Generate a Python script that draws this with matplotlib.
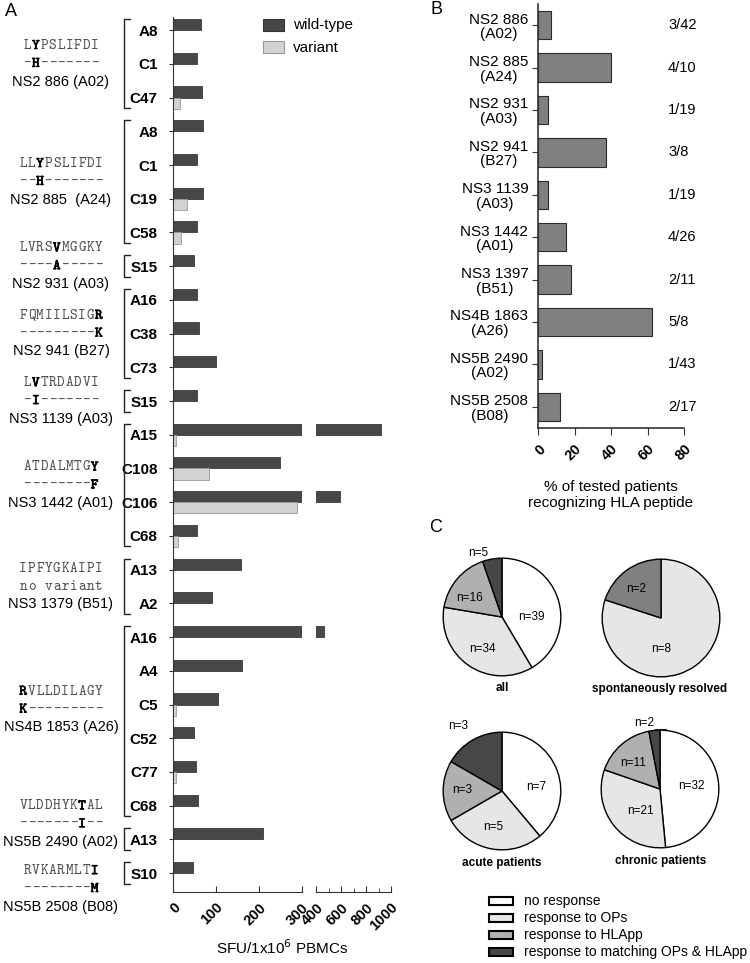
import numpy as np
import matplotlib
matplotlib.use("Agg")
import matplotlib.pyplot as plt
import matplotlib.transforms as mtransforms
import matplotlib.patheffects as pe
from matplotlib.patches import Rectangle
from matplotlib.lines import Line2D

plt.rcParams['font.family'] = ['Liberation Sans', 'DejaVu Sans']

# ---------------- data ----------------
# panel A: donors per row, wild-type and variant SFU
donors = ['A8', 'C1', 'C47', 'A8', 'C1', 'C19', 'C58', 'S15', 'A16', 'C38', 'C73',
          'S15', 'A15', 'C108', 'C106', 'C68', 'A13', 'A2', 'A16', 'A4', 'C5', 'C52',
          'C77', 'C68', 'A13', 'S10']
wild_type = [65, 56, 67, 71, 56, 71, 56, 48, 56, 61, 100, 56, 917, 250, 590, 56,
             158, 91, 460, 160, 106, 48, 54, 58, 210, 46]
variant = [0, 0, 16, 0, 0, 33, 18, 0, 0, 0, 0, 0, 8, 85, 288, 11, 0, 0, 0, 0, 6,
           0, 8, 0, 0, 0]

group_names = ['NS2 886 (A02)', 'NS2 885  (A24)', 'NS2 931 (A03)', 'NS2 941 (B27)',
               'NS3 1139 (A03)', 'NS3 1442 (A01)', 'NS3 1379 (B51)', 'NS4B 1853 (A26)',
               'NS5B 2490 (A02)', 'NS5B 2508 (B08)']
group_seqs = ['LYPSLIFDI', 'LLYPSLIFDI', 'LVRSVMGGKY', 'FQMIILSIGR', 'LVTRDADVI',
              'ATDALMTGY', 'IPFYGKAIPI', 'RVLLDILAGY', 'VLDDHYKTAL', 'RVKARMLTI']
group_vars = ['-H-------', '--H-------', '----A-----', '---------K', '-I-------',
              '--------F', 'no variant', 'K---------', '-------I--', '--------M']
group_bold = [1, 2, 4, 9, 1, 8, None, 0, 7, 8]
group_sizes = [3, 4, 1, 3, 1, 4, 2, 6, 1, 1]
group_shift = [0, 0, 0, 0, 0, 0, 0, -0.35, -0.45, 0.47]

# panel B
peptides = ['NS2 886\n(A02)', 'NS2 885\n(A24)', 'NS2 931\n(A03)', 'NS2 941\n(B27)',
            'NS3 1139\n(A03)', 'NS3 1442\n(A01)', 'NS3 1397\n(B51)', 'NS4B 1863\n(A26)',
            'NS5B 2490\n(A02)', 'NS5B 2508\n(B08)']
pct_recog = [7.1, 40.0, 5.3, 37.5, 5.3, 15.4, 18.2, 62.5, 2.3, 11.8]
fractions = ['3/42', '4/10', '1/19', '3/8', '1/19', '4/26', '2/11', '5/8', '1/43', '2/17']

# panel C
categories = ['no response', 'response to OPs', 'response to HLApp',
              'response to matching OPs & HLApp']
pie_titles = ['all', 'spontaneously resolved', 'acute patients', 'chronic patients']
pie_all = [39, 34, 16, 5]
pie_resolved = [0, 8, 2, 0]
pie_acute = [7, 5, 3, 3]
pie_chronic = [32, 21, 11, 2]

# ---------------- layout helpers ----------------
W, H = 750, 963
fig = plt.figure(figsize=(W / 100, H / 100), dpi=100)


def box(x0, y0, x1, y1):
    return [x0 / W, 1 - y1 / H, (x1 - x0) / W, (y1 - y0) / H]


DARK = '#474747'
LIGHT = '#d2d2d2'
SPINE = '#333333'
MONO = ['cmtt10', 'DejaVu Sans Mono']

# ---------------- panel A ----------------
axA = fig.add_axes(box(173, 17, 301.7, 892))
axA2 = fig.add_axes(box(316.3, 17, 391, 892), sharey=axA)
rows = np.arange(len(donors))
wt = np.array(wild_type, dtype=float)
va = np.array(variant, dtype=float)
has_var = va > 0
for ax in (axA, axA2):
    ax.barh(rows - 0.165, wt, height=0.33, color=DARK, edgecolor='#3a3a3a', linewidth=0.6)
    ax.barh(rows[has_var] + 0.165, va[has_var], height=0.33, color=LIGHT,
            edgecolor='#9a9a9a', linewidth=0.6)
    for s in ('top', 'right'):
        ax.spines[s].set_visible(False)
    ax.spines['bottom'].set_color(SPINE)
    ax.spines['left'].set_color(SPINE)
    ax.tick_params(axis='x', direction='in', length=4, color=SPINE, pad=6)

axA.set_ylim(25.56, -0.39)
axA.set_xlim(0, 300)
axA.set_xticks([0, 100, 200, 300])
axA.set_yticks(rows)
axA.set_yticklabels(donors, fontsize=11, fontweight='bold')
axA.tick_params(axis='y', direction='out', length=3, color=SPINE, pad=8)

axA2.set_xlim(400, 1000)
axA2.set_xticks([400, 600, 800, 1000])
axA2.set_xticks([500, 700, 900], minor=True)
axA2.tick_params(axis='x', which='minor', direction='in', length=3, color=SPINE)
axA2.spines['left'].set_visible(False)
axA2.tick_params(axis='y', left=False, labelleft=False)

for ax in (axA, axA2):
    for lab in ax.get_xticklabels():
        lab.set(rotation=45, ha='right', va='top', rotation_mode='anchor',
                fontsize=10.5, fontweight='bold')

fig.text(282 / W, 1 - 948 / H, r'SFU/1x10$^6$ PBMCs', ha='center', va='center',
         fontsize=11)

# brackets and peptide labels
ytrans = mtransforms.blended_transform_factory(fig.transFigure, axA.transData)
bold_fx = [pe.withStroke(linewidth=0.5, foreground='black')]
start = 0
for gi, size in enumerate(group_sizes):
    first, last = start, start + size - 1
    y0, y1 = first - 0.33, last + 0.31
    xb = 124 / W
    fig.add_artist(Line2D([xb + 6 / W, xb, xb, xb + 6 / W], [y0, y0, y1, y1],
                          transform=ytrans, color='#222222', lw=1.0))
    yc = (first + last) / 2 + group_shift[gi]
    lines = [yc - 0.53, yc, yc + 0.53]
    seq, var, b = group_seqs[gi], group_vars[gi], group_bold[gi]
    for li, txt in enumerate((seq, var)):
        n = len(txt)
        for k, ch in enumerate(txt):
            if ch == ' ':
                continue
            xpx = 61 + (k - (n - 1) / 2) * 8.4
            is_bold = (b is not None and k == b)
            fig.text(xpx / W, lines[li], ch, transform=ytrans, ha='center', va='center',
                     family=MONO, fontsize=10.5,
                     color='black' if is_bold else '#505050',
                     path_effects=bold_fx if is_bold else None)
    fig.text(61 / W, lines[2], group_names[gi], transform=ytrans, ha='center',
             va='center', fontsize=10.5)
    start += size

# legend A
for (lab, col, ec, ypx) in (('wild-type', DARK, '#333333', 25.5), ('variant', LIGHT, '#999999', 47.5)):
    fig.add_artist(Rectangle((263 / W, 1 - (ypx + 6) / H), 21 / W, 12 / H,
                             transform=fig.transFigure, facecolor=col, edgecolor=ec, lw=0.8))
    fig.text(293 / W, 1 - ypx / H, lab, ha='left', va='center', fontsize=11)

# ---------------- panel B ----------------
axB = fig.add_axes(box(538, 4, 684, 428))
yB = np.arange(len(peptides))
axB.barh(yB, pct_recog, height=0.67, color='#808080', edgecolor='#2a2a2a', linewidth=0.8)
axB.set_ylim(9.5, -0.5)
axB.set_xlim(0, 80)
axB.set_xticks([0, 20, 40, 60, 80])
axB.set_yticks(yB)
axB.set_yticklabels(peptides, fontsize=11, multialignment='center', linespacing=1.05)
for s in ('top', 'right'):
    axB.spines[s].set_visible(False)
for s in ('left', 'bottom'):
    axB.spines[s].set_color(SPINE)
    axB.spines[s].set_linewidth(1.2)
axB.tick_params(axis='y', direction='out', length=4, color=SPINE, pad=3)
axB.tick_params(axis='x', direction='out', length=5, color=SPINE, pad=5)
for lab in axB.get_xticklabels():
    lab.set(rotation=45, ha='right', va='top', rotation_mode='anchor',
            fontsize=10.5, fontweight='bold')
axB.set_xlabel('% of tested patients\nrecognizing HLA peptide', fontsize=11,
               labelpad=12, linespacing=1.15)
ftrans = mtransforms.blended_transform_factory(fig.transFigure, axB.transData)
for i, fr in enumerate(fractions):
    fig.text(668 / W, i, fr, transform=ftrans, ha='left', va='center', fontsize=10.5)

# ---------------- panel C ----------------
base_colors = ['#ffffff', '#e6e6e6', '#b0b0b0', DARK]
pies = [
    (pie_all, (502, 617), base_colors,
     [(0.50, 0.0), (-0.33, -0.55), (-0.55, 0.33), (-0.40, 1.08)], (502, 688)),
    (pie_resolved, (661, 618), ['#ffffff', '#e6e6e6', '#808080', DARK],
     [None, (0.0, -0.52), (-0.42, 0.50), None], (660, 689)),
    (pie_acute, (502, 791), base_colors,
     [(0.58, 0.07), (-0.15, -0.62), (-0.67, 0.02), (-0.75, 1.10)], (502, 863)),
    (pie_chronic, (660, 789), base_colors,
     [(0.53, 0.05), (-0.33, -0.37), (-0.45, 0.45), (-0.27, 1.12)], (661, 861)),
]
pie_axes = []
for (vals, (cx, cy), cols, lpos, (tx, ty)), title in zip(pies, pie_titles):
    axp = fig.add_axes(box(cx - 60, cy - 60, cx + 60, cy + 60))
    keep = [i for i, v in enumerate(vals) if v > 0]
    axp.pie([vals[i] for i in keep], colors=[cols[i] for i in keep], startangle=90,
            counterclock=False, radius=1.0,
            wedgeprops=dict(edgecolor='black', linewidth=1.0))
    axp.set_xlim(-1.02, 1.02)
    axp.set_ylim(-1.02, 1.02)
    axp.set_aspect('equal')
    axp.axis('off')
    for i in keep:
        px, py = lpos[i]
        axp.text(px, py, f'n={vals[i]}', ha='center', va='center', fontsize=8.5,
                 clip_on=False)
    fig.text(tx / W, 1 - ty / H, title, ha='center', va='center', fontsize=8.5,
             fontweight='bold')
    pie_axes.append(axp)

# leader line for the small chronic wedge label
pie_axes[3].plot([-0.08, 0.1], [1.02, 1.02], color='#222222', lw=0.8, clip_on=False)

# legend C
for i, (cat, col) in enumerate(zip(categories, base_colors)):
    ypx = 901 + i * 17
    fig.add_artist(Rectangle((489 / W, 1 - (ypx + 4) / H), 23.5 / W, 8 / H,
                             transform=fig.transFigure, facecolor=col,
                             edgecolor='black', lw=1.5))
    fig.text(524 / W, 1 - ypx / H, cat, ha='left', va='center', fontsize=10)

# panel letters
fig.text(5 / W, 1 - 11 / H, 'A', ha='left', va='center', fontsize=13)
fig.text(430 / W, 1 - 10 / H, 'B', ha='left', va='center', fontsize=13)
fig.text(429 / W, 1 - 528 / H, 'C', ha='left', va='center', fontsize=13)

fig.savefig('out.png', dpi=100)
